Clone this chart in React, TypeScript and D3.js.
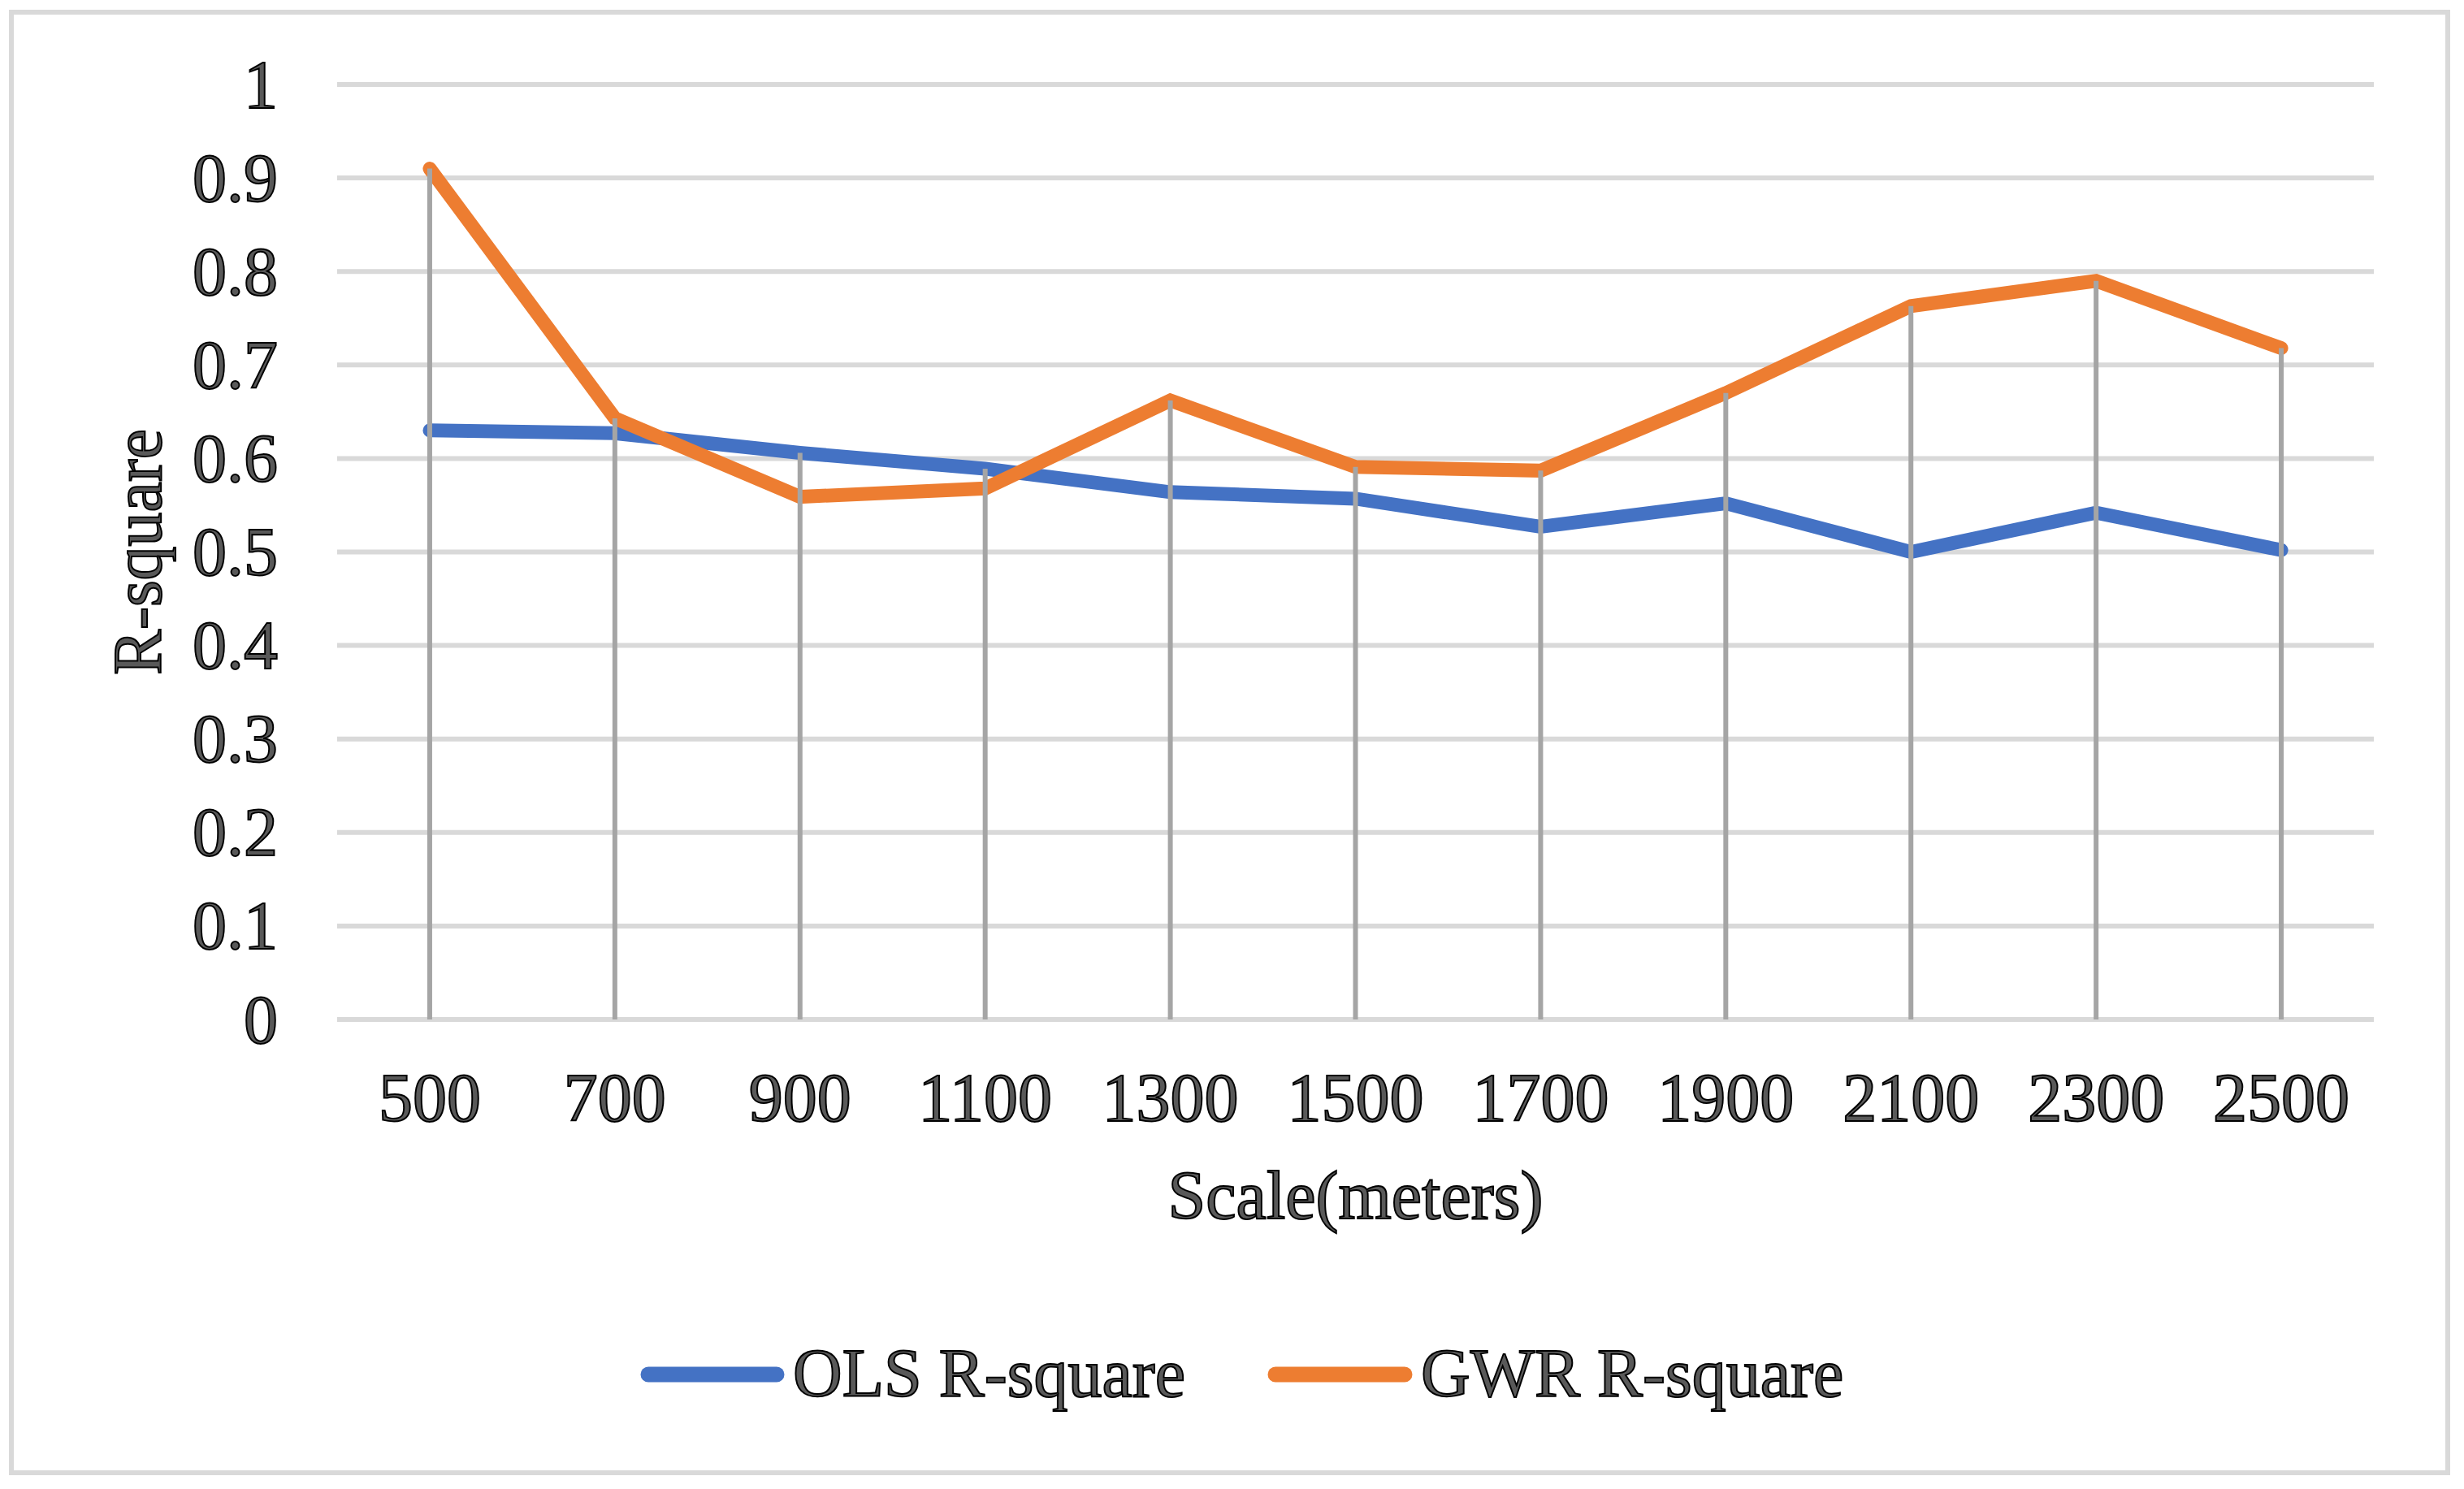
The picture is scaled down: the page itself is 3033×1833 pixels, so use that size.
import React from "react";
import * as d3 from "d3";

const categories = ["500", "700", "900", "1100", "1300", "1500", "1700", "1900", "2100", "2300", "2500"];
const olsValues = [0.630, 0.627, 0.606, 0.589, 0.564, 0.557, 0.527, 0.552, 0.500, 0.542, 0.502];
const gwrValues = [0.910, 0.643, 0.559, 0.568, 0.662, 0.591, 0.587, 0.670, 0.763, 0.790, 0.718];
const yTickValues = [0, 0.1, 0.2, 0.3, 0.4, 0.5, 0.6, 0.7, 0.8, 0.9, 1];
const seriesNames = ["OLS R-square", "GWR R-square"];
const seriesColors = ["#4472C4", "#ED7D31"];

const W = 3033;
const H = 1833;
const FONT = "'Liberation Serif', 'Times New Roman', serif";
const FS = 84;
const TEXT_FILL = "#595959";

export default function App() {
  const x = d3.scaleBand<string>().domain(categories).range([415, 2922]);
  const y = d3.scaleLinear().domain([0, 1]).range([1255, 104]);
  const cx = (c: string) => (x(c) as number) + x.bandwidth() / 2;

  const series = [olsValues, gwrValues];
  const line = d3
    .line<number>()
    .x((_, i) => cx(categories[i]))
    .y((v) => y(v));

  const textProps = {
    fontFamily: FONT,
    fontSize: FS,
    fill: TEXT_FILL,
    stroke: "#000",
    strokeWidth: 2,
  };

  const legendItems = [
    { x1: 798, x2: 956, tx: 976 },
    { x1: 1570, x2: 1729, tx: 1749 },
  ];

  return (
    <svg
      width={W}
      height={H}
      style={{ position: "absolute", left: 0, top: 0, background: "#fff" }}
    >
      <rect x={0} y={0} width={W} height={H} fill="#fff" />
      <rect x={14} y={15} width={2999} height={1798} fill="#fff" stroke="#d9d9d9" strokeWidth={6} />

      {/* gridlines */}
      {yTickValues.map((t) => (
        <line key={"g" + t} x1={415} x2={2922} y1={y(t)} y2={y(t)} stroke="#d9d9d9" strokeWidth={6} />
      ))}

      {/* y tick labels */}
      {yTickValues.map((t) => (
        <text key={"yl" + t} x={342} y={y(t) + FS * 0.34} textAnchor="end" {...textProps}>
          {d3.format("~g")(t)}
        </text>
      ))}

      {/* series lines */}
      {series.map((vals, si) => (
        <path
          key={"s" + si}
          d={line(vals) as string}
          fill="none"
          stroke={seriesColors[si]}
          strokeWidth={17}
          strokeLinecap="round"
          strokeLinejoin="miter"
        />
      ))}

      {/* drop lines */}
      {categories.map((c, i) => (
        <line
          key={"d" + c}
          x1={cx(c)}
          x2={cx(c)}
          y1={y(Math.max(olsValues[i], gwrValues[i]))}
          y2={y(0)}
          stroke="#a5a5a5"
          strokeWidth={6}
        />
      ))}

      {/* x tick labels */}
      {categories.map((c) => (
        <text key={"xl" + c} x={cx(c)} y={1380} textAnchor="middle" {...textProps}>
          {c}
        </text>
      ))}

      {/* axis titles */}
      <text x={(415 + 2922) / 2} y={1500} textAnchor="middle" {...textProps}>
        Scale(meters)
      </text>
      <text
        transform={`translate(198, ${(y(0) + y(1)) / 2}) rotate(-90)`}
        textAnchor="middle"
        {...textProps}
      >
        R-square
      </text>

      {/* legend */}
      {legendItems.map((li, i) => (
        <g key={"lg" + i}>
          <line
            x1={li.x1}
            x2={li.x2}
            y1={1692}
            y2={1692}
            stroke={seriesColors[i]}
            strokeWidth={19}
            strokeLinecap="round"
          />
          <text x={li.tx} y={1719} {...textProps}>
            {seriesNames[i]}
          </text>
        </g>
      ))}
    </svg>
  );
}
